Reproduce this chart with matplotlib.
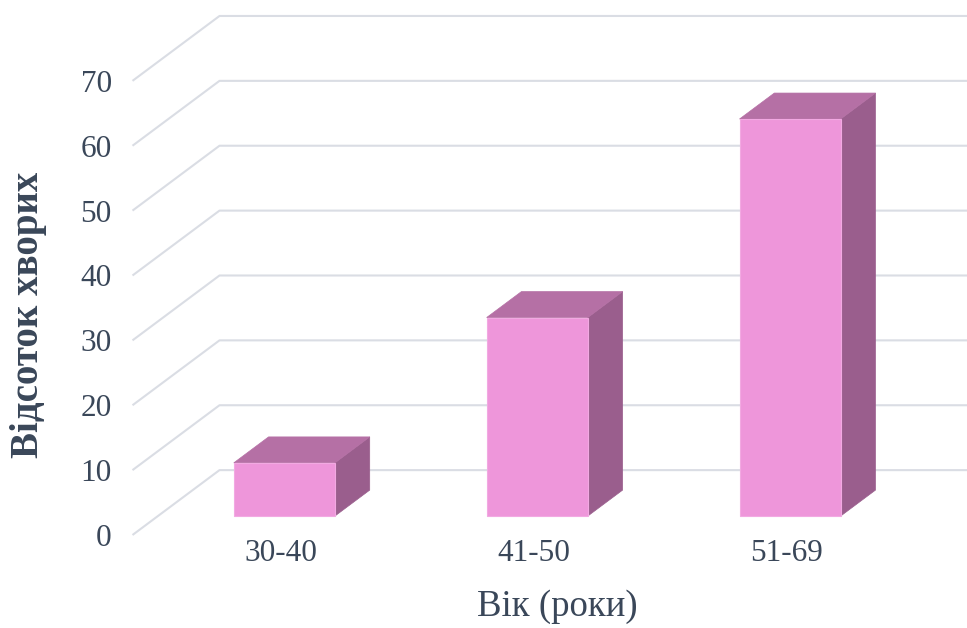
import matplotlib
matplotlib.use('Agg')
import matplotlib.pyplot as plt
from matplotlib.patches import Polygon

plt.rcParams['font.family'] = ['Liberation Serif', 'DejaVu Serif']

categories = ['30-40', '41-50', '51-69']
values = [8.2, 30.6, 61.2]
yticks = [0, 10, 20, 30, 40, 50, 60, 70]

# oblique "3d" look: one unit of depth shifts by DX categories and DV values
DX = 0.344
DV = 10.0
BAR_W = 0.4
BAR_D = 0.4
BAR_D0 = 0.292

FRONT = '#ee96da'
TOP = '#b570a5'
SIDE = '#9a5e8d'
GRID = '#dadde4'
TEXT = '#3a4759'


def proj(x, v, d):
    return (x + d * DX, v + d * DV)


fig = plt.figure(figsize=(9.67, 6.28), dpi=100)
W, H = 967.0, 628.0
ax = fig.add_axes([132.5 / W, (H - 535) / H, (W - 132.5) / W, (535 - 3) / H])
ax.set_xlim(-0.5, 2.8)
ax.set_ylim(0, 82)

# walls: left wall diagonals + back wall horizontals
for t in yticks:
    pts = [proj(-0.5, t, 0), proj(-0.5, t, 1), proj(2.6, t, 1)]
    ax.plot([p[0] for p in pts], [p[1] for p in pts], color=GRID, lw=1.5,
            clip_on=False, zorder=1, solid_capstyle='butt')

for i, val in enumerate(values):
    x0 = i - BAR_W / 2
    x1 = i + BAR_W / 2
    d0 = BAR_D0
    d1 = BAR_D0 + BAR_D
    front = [proj(x0, 0, d0), proj(x1, 0, d0), proj(x1, val, d0), proj(x0, val, d0)]
    top = [proj(x0, val, d0), proj(x1, val, d0), proj(x1, val, d1), proj(x0, val, d1)]
    side = [proj(x1, 0, d0), proj(x1, 0, d1), proj(x1, val, d1), proj(x1, val, d0)]
    ax.add_patch(Polygon(side, closed=True, facecolor=SIDE, edgecolor=SIDE,
                         lw=0.5, clip_on=False, zorder=3))
    ax.add_patch(Polygon(top, closed=True, facecolor=TOP, edgecolor=TOP,
                         lw=0.5, clip_on=False, zorder=3))
    ax.add_patch(Polygon(front, closed=True, facecolor=FRONT, edgecolor='#f2a9e2',
                         lw=0.8, clip_on=False, zorder=4))

ax.set_yticks(yticks)
ax.set_yticklabels([str(t) for t in yticks])
ax.set_xticks([i + 0.085 for i in range(len(categories))])
ax.set_xticklabels(categories)
ax.tick_params(axis='y', length=0, pad=15, labelsize=22.5, labelcolor=TEXT)
ax.tick_params(axis='x', length=0, pad=3, labelsize=22.5, labelcolor=TEXT)
for s in ax.spines.values():
    s.set_visible(False)
ax.patch.set_visible(False)

fig.text(29 / W, 1 - 315 / H, 'Відсоток хворих', rotation=90, ha='center',
         va='center', fontsize=28, fontweight='bold', color=TEXT)
fig.text(557 / W, 1 - 607 / H, 'Вік (роки)', ha='center', va='center',
         fontsize=26.5, color=TEXT)

fig.savefig('out.png', dpi=100)
plt.close('all')
